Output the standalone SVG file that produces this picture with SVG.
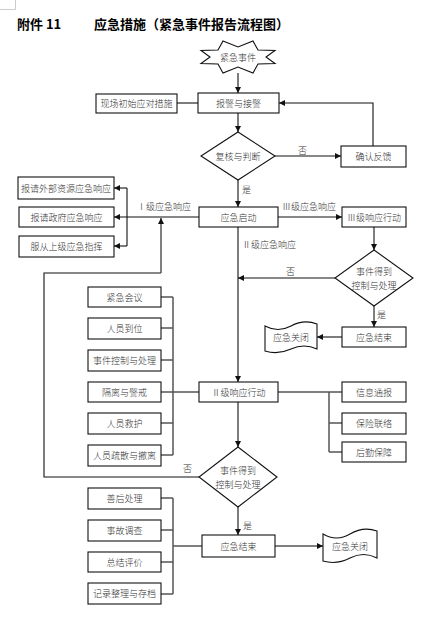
<svg xmlns="http://www.w3.org/2000/svg" width="429" height="642" viewBox="0 0 429 642">
<defs>
<style>
.box{fill:#fff;stroke:#111;stroke-width:1.1}
.t{font-family:"Noto Sans CJK SC","Noto Sans",sans-serif;font-size:9px;font-weight:300;fill:#333;text-anchor:middle;dominant-baseline:central}
.lb{font-family:"Noto Sans CJK SC","Noto Sans",sans-serif;font-size:9px;font-weight:300;fill:#333}
.ttl{font-family:"Noto Sans CJK SC","Liberation Serif",sans-serif;font-size:13px;font-weight:bold;fill:#000}
.c{fill:none;stroke:#111;stroke-width:1.1}
.g{fill:none;stroke:#555;stroke-width:1.5}
</style>
<marker id="ar" viewBox="0 0 10 10" refX="10" refY="5" markerWidth="6" markerHeight="6" markerUnits="userSpaceOnUse" orient="auto">
<path d="M0,0 L10,5 L0,10 z" fill="#111"/>
</marker>
</defs>
<rect width="429" height="642" fill="#fff"/>
<path d="M15.5,0 V9.5 H0" fill="none" stroke="#ccc" stroke-width="1"/>
<text class="ttl" x="17" y="29">附件 11</text>
<text class="ttl" x="94" y="29">应急措施（紧急事件报告流程图）</text>

<g id="connectors">
<path class="c" d="M238,73 V93" marker-end="url(#ar)"/>
<path class="c" d="M177,103 H198"/>
<path class="c" d="M238,113 V132" marker-end="url(#ar)"/>
<path class="c" d="M275,156 H341" marker-end="url(#ar)"/>
<path class="c" d="M373,146 V103 H279" marker-end="url(#ar)"/>
<path class="c" d="M238,180 V207" marker-end="url(#ar)"/>
<path class="c" d="M199,217 H114" marker-end="url(#ar)"/>
<path class="c" d="M127,188 V246"/>
<path class="c" d="M127,188 H114" marker-end="url(#ar)"/>
<path class="c" d="M127,246 H114" marker-end="url(#ar)"/>
<path class="c" d="M200,477 H44 V273 H161"/>
<path class="g" d="M161,273 V218" marker-end="url(#ar)"/>
<path class="c" d="M278,217 H342" marker-end="url(#ar)"/>
<path class="g" d="M374,227 V250" marker-end="url(#ar)"/>
<path class="c" d="M335,278 H238" marker-end="url(#ar)"/>
<path class="g" d="M374,306 V327" marker-end="url(#ar)"/>
<path class="c" d="M342,337 H317" marker-end="url(#ar)"/>
<path class="c" d="M238,227 V382" marker-end="url(#ar)"/>
<path class="g" d="M161,297 H173 M161,328 H173 M161,360 H173 M161,392 H199 M161,423 H173 M161,455 H173 M173,297 V455"/>
<path class="g" d="M278,392 H342 M329,392 V452 M329,423 H342 M329,452 H342"/>
<path class="c" d="M238,402 V447" marker-end="url(#ar)"/>
<path class="c" d="M238,507 V535" marker-end="url(#ar)"/>
<path class="g" d="M161,498 H173 M161,530 H173 M161,562 H173 M161,594 H173 M173,498 V594 M173,546 H202"/>
<path class="g" d="M275,546 H323" marker-end="url(#ar)"/>
<text class="lb" x="298" y="154">否</text>
<text class="lb" x="242" y="193">是</text>
<text class="lb" x="137" y="210">Ⅰ级应急响应</text>
<text class="lb" x="282" y="210">Ⅲ级应急响应</text>
<text class="lb" x="242" y="248">Ⅱ级应急响应</text>
<text class="lb" x="286" y="275">否</text>
<text class="lb" x="377" y="318">是</text>
<text class="lb" x="183" y="472">否</text>
<text class="lb" x="243" y="529">是</text>
</g>

<g id="n-start">
<path class="box" d="M223,41 L238,47 L253,41 L258,50 L275,50.5 L266,57 L275,63.5 L258,64 L253,73 L238,67 L223,73 L218,64 L201,63.5 L210,57 L201,50.5 L218,50 Z"/>
<text class="t" x="238" y="57">紧急事件</text>
</g>
<g id="n-alarm"><rect class="box" x="198" y="93" width="81" height="20"/><text class="t" x="238.5" y="103">报警与接警</text></g>
<g id="n-onsite"><rect class="box" x="96" y="94" width="81" height="19"/><text class="t" x="136.5" y="103.5">现场初始应对措施</text></g>
<g id="n-review"><path class="box" d="M238,132 L275,156 L238,180 L201,156 Z"/><text class="t" x="238" y="156">复核与判断</text></g>
<g id="n-confirm"><rect class="box" x="341" y="146" width="65" height="21"/><text class="t" x="373.5" y="156.5">确认反馈</text></g>
<g id="n-ext"><rect class="box" x="18" y="177" width="96" height="22"/><text class="t" x="66" y="188">报请外部资源应急响应</text></g>
<g id="n-gov"><rect class="box" x="19" y="207" width="95" height="20"/><text class="t" x="66.5" y="217">报请政府应急响应</text></g>
<g id="n-sup"><rect class="box" x="19" y="236" width="95" height="21"/><text class="t" x="66.5" y="246.5">服从上级应急指挥</text></g>
<g id="n-launch"><rect class="box" x="199" y="207" width="79" height="20"/><text class="t" x="238.5" y="217">应急启动</text></g>
<g id="n-l3"><rect class="box" x="342" y="207" width="64" height="20"/><text class="t" x="374" y="217">Ⅲ级响应行动</text></g>
<g id="n-ctrl1"><path class="box" d="M374,250 L413,278 L374,306 L335,278 Z"/><text class="t" x="374" y="271">事件得到</text><text class="t" x="374" y="285">控制与处理</text></g>
<g id="n-end1"><rect class="box" x="342" y="327" width="64" height="20"/><text class="t" x="374" y="337">应急结束</text></g>
<g id="n-close1"><path class="box" d="M265,326 Q278,333 291,326 T317,324 V349 Q304,343 291,349 T265,351 Z"/><text class="t" x="291" y="337">应急关闭</text></g>
<g id="n-meet"><rect class="box" x="88" y="287" width="73" height="20"/><text class="t" x="124.5" y="297">紧急会议</text></g>
<g id="n-staff"><rect class="box" x="88" y="318" width="73" height="21"/><text class="t" x="124.5" y="328.5">人员到位</text></g>
<g id="n-handle"><rect class="box" x="88" y="350" width="73" height="21"/><text class="t" x="124.5" y="360.5">事件控制与处理</text></g>
<g id="n-iso"><rect class="box" x="88" y="382" width="73" height="20"/><text class="t" x="124.5" y="392">隔离与警戒</text></g>
<g id="n-rescue"><rect class="box" x="88" y="413" width="73" height="21"/><text class="t" x="124.5" y="423.5">人员救护</text></g>
<g id="n-evac"><rect class="box" x="88" y="445" width="73" height="21"/><text class="t" x="124.5" y="455.5">人员疏散与撤离</text></g>
<g id="n-l2"><rect class="box" x="199" y="382" width="79" height="20"/><text class="t" x="238.5" y="392">Ⅱ级响应行动</text></g>
<g id="n-info"><rect class="box" x="342" y="382" width="64" height="20"/><text class="t" x="374" y="392">信息通报</text></g>
<g id="n-ins"><rect class="box" x="342" y="413" width="64" height="21"/><text class="t" x="374" y="423.5">保险联络</text></g>
<g id="n-log"><rect class="box" x="342" y="442" width="64" height="20"/><text class="t" x="374" y="452">后勤保障</text></g>
<g id="n-ctrl2"><path class="box" d="M238,447 L277,477 L238,507 L199,477 Z"/><text class="t" x="238" y="470">事件得到</text><text class="t" x="238" y="484">控制与处理</text></g>
<g id="n-after"><rect class="box" x="88" y="488" width="73" height="21"/><text class="t" x="124.5" y="498.5">善后处理</text></g>
<g id="n-inv"><rect class="box" x="88" y="520" width="73" height="21"/><text class="t" x="124.5" y="530.5">事故调查</text></g>
<g id="n-eval"><rect class="box" x="88" y="552" width="73" height="20"/><text class="t" x="124.5" y="562">总结评价</text></g>
<g id="n-rec"><rect class="box" x="88" y="583" width="73" height="21"/><text class="t" x="124.5" y="593.5">记录整理与存档</text></g>
<g id="n-end2"><rect class="box" x="202" y="535" width="73" height="22"/><text class="t" x="238.5" y="546">应急结束</text></g>
<g id="n-close2"><path class="box" d="M323,534 Q336.5,542 350,534 T377,531 V558 Q363.5,551 350,558 T323,561 Z"/><text class="t" x="350" y="546">应急关闭</text></g>
</svg>
